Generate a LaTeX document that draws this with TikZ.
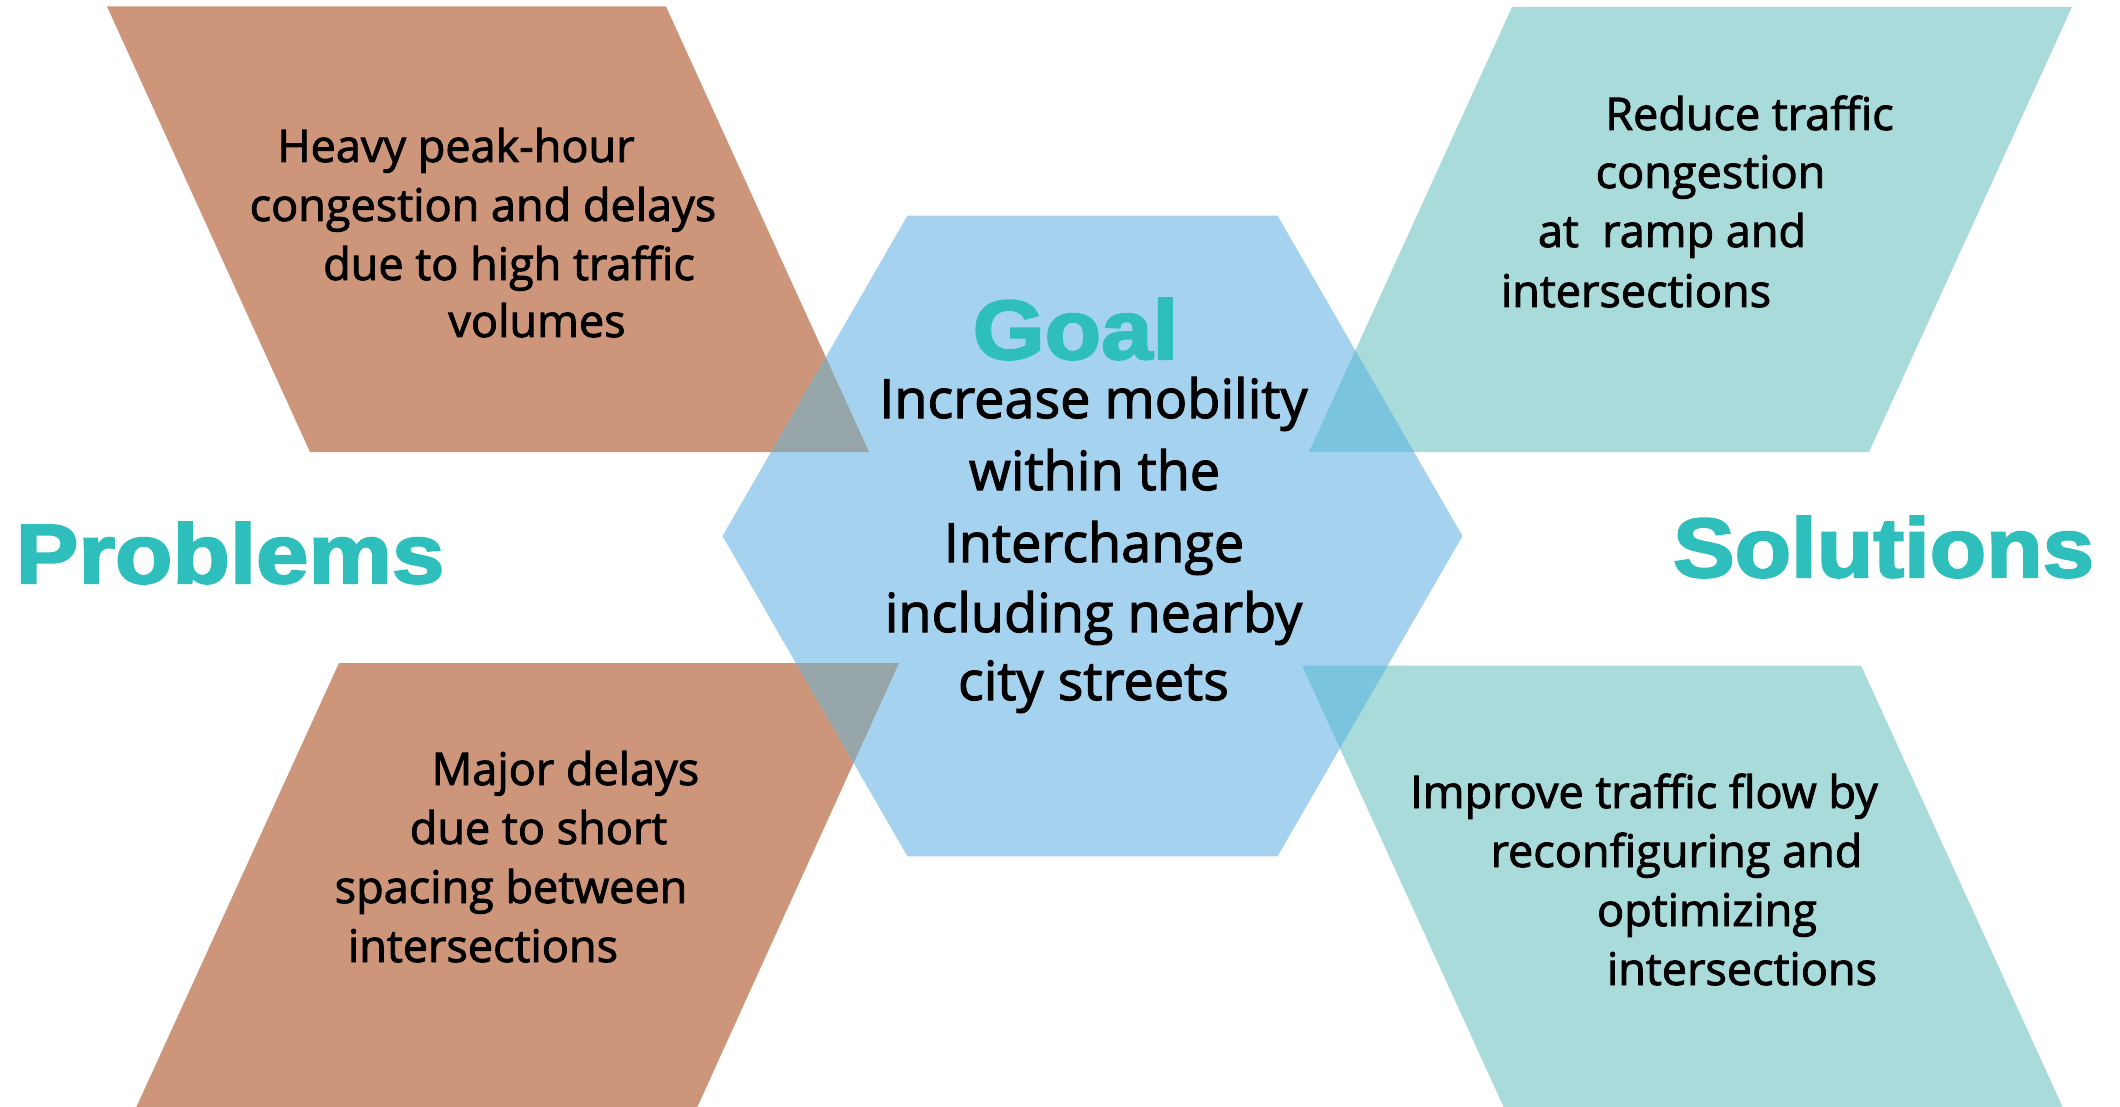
\documentclass[tikz,border=0pt]{standalone}
\usepackage{fontspec}
\setmainfont{Open Sans}
\newfontfamily\bodyfont{Open Sans}[FakeBold=2]
\newfontfamily\headfont{Liberation Sans}[BoldFeatures={FakeBold=2.5}]
\definecolor{brownfill}{HTML}{CD967A}
\definecolor{tealfill}{HTML}{A9DBDA}
\definecolor{bluefill}{HTML}{A5D3EF}
\definecolor{grayover}{HTML}{96A5A8}
\definecolor{tealover}{HTML}{7BC4DE}
\definecolor{headteal}{HTML}{2EBFBC}
\tikzset{
  bodytext/.style={anchor=base, inner sep=0pt, font=\bodyfont\fontsize{45}{56}\selectfont},
  goaltext/.style={anchor=base, inner sep=0pt, font=\bodyfont\fontsize{54}{60}\selectfont},
  headtext/.style={anchor=base, inner sep=0pt, text=headteal, font=\headfont\bfseries\fontsize{84}{90}\selectfont},
}
\begin{document}
\begin{tikzpicture}[x=1pt,y=-1pt]
\useasboundingbox (0,0) rectangle (2120,1107);
% parallelogram paths
\def\pTL{(107,6.5) -- (666,6.5) -- (869,452) -- (310,452) -- cycle}
\def\pTR{(1512,7) -- (2072,7) -- (1869,452) -- (1309,452) -- cycle}
\def\pBL{(339,663) -- (899,663) -- (696,1110) -- (135,1110) -- cycle}
\def\pBR{(1302,665.5) -- (1861,665.5) -- (2064,1110) -- (1505,1110) -- cycle}
\def\hexa{(722.5,536) -- (907.5,215.6) -- (1277.5,215.6) -- (1462.5,536) -- (1277.5,856.4) -- (907.5,856.4) -- cycle}
\fill[brownfill] \pTL;
\fill[brownfill] \pBL;
\fill[tealfill] \pTR;
\fill[tealfill] \pBR;
\fill[bluefill] \hexa;
\begin{scope}
  \clip \hexa;
  \fill[grayover] \pTL;
  \fill[grayover] \pBL;
  \fill[tealover] \pTR;
  \fill[tealover] \pBR;
\end{scope}
% headings
\node[headtext] (goal) at (1075.5,359) {\scalebox{1.1}[1]{Goal}};
\node[headtext] (problems) at (230,583) {\scalebox{1.12}[1]{Problems}};
\node[headtext] (solutions) at (1883.5,577) {\scalebox{1.1}[1]{Solutions}};
% goal text
\node[goaltext] (g1) at (1093.5,418) {Increase mobility};
\node[goaltext] (g2) at (1094.5,490) {within the};
\node[goaltext] (g3) at (1094,562) {Interchange};
\node[goaltext] (g4) at (1093.5,632) {including nearby};
\node[goaltext] (g5) at (1093.5,700) {city streets};
% problems top
\node[bodytext] (a1) at (456,162) {Heavy peak-hour};
\node[bodytext] (a2) at (483,221) {congestion and delays};
\node[bodytext] (a3) at (509,280) {due to high traffic};
\node[bodytext] (a4) at (537,337) {volumes};
% problems bottom
\node[bodytext] (b1) at (565.5,785) {Major delays};
\node[bodytext] (b2) at (538.5,844) {due to short};
\node[bodytext] (b3) at (511,903) {spacing between};
\node[bodytext] (b4) at (483,962) {intersections};
% solutions top
\node[bodytext] (c1) at (1749.5,130) {Reduce traffic};
\node[bodytext] (c2) at (1710.5,188) {congestion};
\node[bodytext] (c3) at (1672,247) {at\ \ ramp and};
\node[bodytext] (c4) at (1636,307) {intersections};
% solutions bottom
\node[bodytext] (d1) at (1644,808) {Improve traffic flow by};
\node[bodytext] (d2) at (1676.5,867) {reconfiguring and};
\node[bodytext] (d3) at (1707,926) {optimizing};
\node[bodytext] (d4) at (1742,985) {intersections};
\end{tikzpicture}
\end{document}
